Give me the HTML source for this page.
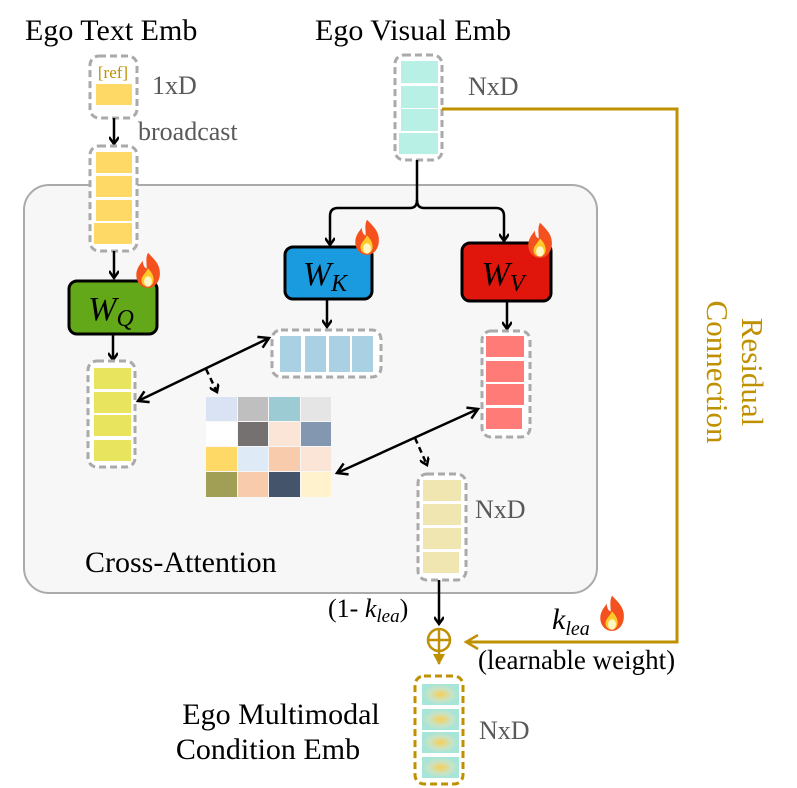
<!DOCTYPE html>
<html><head><meta charset="utf-8"><style>
html,body{margin:0;padding:0;background:#fff;}
svg{display:block;}
text{font-family:"Liberation Serif",serif;}
</style></head><body>
<svg width="797" height="788" viewBox="0 0 797 788" xmlns="http://www.w3.org/2000/svg">
<defs>
<marker id="ab" markerWidth="10" markerHeight="10" refX="8" refY="5" orient="auto" markerUnits="userSpaceOnUse"><path d="M1,0 L8,5 L1,10" fill="none" stroke="#000" stroke-width="2.5"/></marker>
<marker id="abs" markerWidth="14" markerHeight="14" refX="11" refY="7" orient="auto-start-reverse" markerUnits="userSpaceOnUse"><path d="M1,1 L11,7 L1,13" fill="none" stroke="#000" stroke-width="2.5"/></marker>
<marker id="ag" markerWidth="16" markerHeight="16" refX="13" refY="8" orient="auto" markerUnits="userSpaceOnUse"><path d="M1,1 L13,8 L1,15" fill="none" stroke="#bf9000" stroke-width="2.5"/></marker>
<marker id="agd" markerWidth="12" markerHeight="12" refX="6" refY="10" orient="0" markerUnits="userSpaceOnUse"><path d="M0,0 L12,0 L6,11 Z" fill="#bf9000"/></marker>
<radialGradient id="rg"><stop offset="0" stop-color="#f7cf5a"/><stop offset="0.6" stop-color="#c9e3c4"/><stop offset="1" stop-color="#a6e5d8"/></radialGradient>
<g id="fire"><g transform="scale(1.3)"><path d="M0,-14 C6,-8 10,-4 9,4 C8,10 4,13 0,13 C-5,13 -9,9 -9,3 C-9,-2 -6,-5 -4,-8 C-4,-4 -2,-2 -1,-2 C-1,-7 -2,-10 0,-14 Z" fill="#f4511e"/><path d="M0,-2 C4,2 5,6 4,9 C3,11 1,12 0,12 C-3,12 -5,10 -5,7 C-5,4 -2,2 0,-2 Z" fill="#ffca28"/><ellipse cx="0" cy="8" rx="3" ry="4" fill="#fff6c8"/></g></g>
</defs>

<rect x="24" y="185" width="573" height="408" rx="25" fill="#f7f7f7" stroke="#aaa" stroke-width="2"/>

<text x="25" y="40" font-size="30">Ego Text Emb</text>
<text x="315" y="40" font-size="30">Ego Visual Emb</text>

<rect x="90" y="56" width="47" height="62" rx="9" fill="#fff" stroke="#aaa" stroke-width="3" stroke-dasharray="7,4"/>
<text x="113" y="78" font-size="17" fill="#bf9000" text-anchor="middle">[ref]</text>
<rect x="96" y="84" width="36" height="21" fill="#ffd966"/>
<text x="152" y="94" font-size="26" fill="#595959">1xD</text>
<line x1="114" y1="118" x2="114" y2="144" stroke="#000" stroke-width="2.5" marker-end="url(#ab)"/>
<text x="138" y="140" font-size="26" fill="#595959">broadcast</text>

<rect x="90" y="146" width="47" height="105" rx="9" fill="#fff" stroke="#aaa" stroke-width="3" stroke-dasharray="7,4"/>
<rect x="96" y="152" width="36" height="21" fill="#ffd966"/>
<rect x="96" y="176" width="36" height="21" fill="#ffd966"/>
<rect x="96" y="200" width="36" height="21" fill="#ffd966"/>
<rect x="94" y="223" width="38" height="21" fill="#ffd966"/>
<line x1="114" y1="251" x2="114" y2="278" stroke="#000" stroke-width="2.5" marker-end="url(#ab)"/>

<rect x="69" y="281" width="88" height="53" rx="8" fill="#62a818" stroke="#000" stroke-width="3"/>
<text x="111" y="320" font-size="34" font-style="italic" text-anchor="middle">W<tspan font-size="24" dy="6">Q</tspan></text>
<use href="#fire" x="148" y="271"/>
<line x1="113" y1="334" x2="113" y2="360" stroke="#000" stroke-width="2.5" marker-end="url(#ab)"/>
<rect x="88" y="361" width="47" height="106" rx="9" fill="#fff" stroke="#aaa" stroke-width="3" stroke-dasharray="7,4"/>
<rect x="94" y="368" width="37" height="21" fill="#e8e45e"/>
<rect x="94" y="392" width="37" height="21" fill="#e8e45e"/>
<rect x="94" y="415" width="37" height="21" fill="#e8e45e"/>
<rect x="94" y="440" width="37" height="21" fill="#e8e45e"/>

<rect x="395" y="55" width="47" height="105" rx="9" fill="#fff" stroke="#aaa" stroke-width="3" stroke-dasharray="7,4"/>
<rect x="401" y="61" width="37" height="22" fill="#b9f0e6"/>
<rect x="401" y="86" width="37" height="22" fill="#b9f0e6"/>
<rect x="401" y="109" width="37" height="22" fill="#b9f0e6"/>
<rect x="399" y="133" width="39" height="21" fill="#b9f0e6"/>
<text x="468" y="95" font-size="26" fill="#595959">NxD</text>

<path d="M417,160 L417,200 Q417,208 410,208 L338,208 Q330,208 330,216 L330,245" fill="none" stroke="#000" stroke-width="2.5" marker-end="url(#ab)"/>
<path d="M417,200 Q417,208 424,208 L496,208 Q504,208 504,216 L504,241" fill="none" stroke="#000" stroke-width="2.5" marker-end="url(#ab)"/>

<rect x="285" y="247" width="87" height="52" rx="8" fill="#1a9be0" stroke="#000" stroke-width="3"/>
<text x="325" y="285" font-size="34" font-style="italic" text-anchor="middle">W<tspan font-size="24" dy="6">K</tspan></text>
<use href="#fire" x="367" y="238"/>
<rect x="462" y="243" width="89" height="58" rx="8" fill="#e0150b" stroke="#000" stroke-width="3"/>
<text x="503" y="285" font-size="34" font-style="italic" text-anchor="middle">W<tspan font-size="24" dy="6">V</tspan></text>
<use href="#fire" x="540" y="241"/>

<line x1="327" y1="299" x2="327" y2="327" stroke="#000" stroke-width="2.5" marker-end="url(#ab)"/>
<rect x="272" y="330" width="109" height="47" rx="9" fill="#fff" stroke="#aaa" stroke-width="3" stroke-dasharray="7,4"/>
<rect x="280" y="336" width="21" height="36" fill="#a9d0e3"/>
<rect x="305" y="336" width="21" height="36" fill="#a9d0e3"/>
<rect x="329" y="336" width="21" height="36" fill="#a9d0e3"/>
<rect x="352" y="336" width="21" height="36" fill="#a9d0e3"/>

<line x1="507" y1="301" x2="507" y2="329" stroke="#000" stroke-width="2.5" marker-end="url(#ab)"/>
<rect x="482" y="331" width="48" height="106" rx="9" fill="#fff" stroke="#aaa" stroke-width="3" stroke-dasharray="7,4"/>
<rect x="486" y="336" width="38" height="21" fill="#ff7b78"/>
<rect x="486" y="361" width="38" height="21" fill="#ff7b78"/>
<rect x="486" y="384" width="38" height="21" fill="#ff7b78"/>
<rect x="486" y="408" width="36" height="21" fill="#ff7b78"/>

<g>
<rect x="206" y="397" width="31" height="24" fill="#dae3f3"/><rect x="238" y="397" width="30" height="24" fill="#bfbfbf"/><rect x="269" y="397" width="31" height="24" fill="#9dcbd3"/><rect x="301" y="397" width="30" height="24" fill="#e5e5e5"/>
<rect x="206" y="422" width="31" height="24" fill="#ffffff"/><rect x="238" y="422" width="30" height="24" fill="#767171"/><rect x="269" y="422" width="31" height="24" fill="#fbe5d6"/><rect x="301" y="422" width="30" height="24" fill="#8497b0"/>
<rect x="206" y="447" width="31" height="24" fill="#ffd966"/><rect x="238" y="447" width="30" height="24" fill="#deebf7"/><rect x="269" y="447" width="31" height="24" fill="#f8cbad"/><rect x="301" y="447" width="30" height="24" fill="#fbe5d6"/>
<rect x="206" y="472" width="31" height="25" fill="#a19e56"/><rect x="238" y="472" width="30" height="25" fill="#f8cbad"/><rect x="269" y="472" width="31" height="25" fill="#44546a"/><rect x="301" y="472" width="30" height="25" fill="#fff2cc"/>
</g>

<line x1="138" y1="401" x2="269" y2="338" stroke="#000" stroke-width="2.5" marker-start="url(#abs)" marker-end="url(#abs)"/>
<line x1="206" y1="369" x2="217" y2="392" stroke="#000" stroke-width="2.5" stroke-dasharray="6,4" marker-end="url(#ab)"/>
<line x1="337" y1="473" x2="478" y2="409" stroke="#000" stroke-width="2.5" marker-start="url(#abs)" marker-end="url(#abs)"/>
<line x1="415" y1="438" x2="427" y2="465" stroke="#000" stroke-width="2.5" stroke-dasharray="6,4" marker-end="url(#ab)"/>

<rect x="418" y="474" width="48" height="106" rx="9" fill="#fff" stroke="#aaa" stroke-width="3" stroke-dasharray="7,4"/>
<rect x="423" y="480" width="38" height="21" fill="#f0e6b2"/>
<rect x="423" y="504" width="38" height="21" fill="#f0e6b2"/>
<rect x="423" y="528" width="38" height="21" fill="#f0e6b2"/>
<rect x="423" y="552" width="36" height="21" fill="#f0e6b2"/>
<text x="475" y="518" font-size="26" fill="#595959">NxD</text>
<text x="85" y="572" font-size="30">Cross-Attention</text>

<line x1="439" y1="580" x2="439" y2="624" stroke="#000" stroke-width="2.5" marker-end="url(#ab)"/>
<text x="328" y="617" font-size="26">(1- <tspan font-style="italic">k</tspan><tspan font-style="italic" font-size="19" dy="5">lea</tspan><tspan dy="-5">)</tspan></text>
<circle cx="439" cy="640" r="11" fill="none" stroke="#bf9000" stroke-width="2.5"/>
<line x1="428" y1="640" x2="450" y2="640" stroke="#bf9000" stroke-width="2.5"/>
<line x1="439" y1="629" x2="439" y2="651" stroke="#bf9000" stroke-width="2.5"/>
<line x1="439" y1="651" x2="439" y2="664" stroke="#bf9000" stroke-width="2.5" marker-end="url(#agd)"/>

<path d="M442,109 L677,109 L677,642 L466,642" fill="none" stroke="#bf9000" stroke-width="3" marker-end="url(#ag)"/>
<text transform="translate(742,372) rotate(90)" font-size="31" fill="#bf9000" text-anchor="middle">Residual</text>
<text transform="translate(707,372) rotate(90)" font-size="31" fill="#bf9000" text-anchor="middle">Connection</text>
<text x="552" y="629" font-size="30" font-style="italic">k<tspan font-size="20" dy="6">lea</tspan></text>
<use href="#fire" x="612" y="614"/>
<text x="478" y="669" font-size="27">(learnable weight)</text>

<rect x="415" y="676" width="48" height="108" rx="9" fill="#fff" stroke="#bf9000" stroke-width="3" stroke-dasharray="7,4"/>
<rect x="422" y="684" width="37" height="21" fill="url(#rg)"/>
<rect x="422" y="709" width="37" height="21" fill="url(#rg)"/>
<rect x="422" y="732" width="37" height="21" fill="url(#rg)"/>
<rect x="422" y="757" width="37" height="21" fill="url(#rg)"/>
<text x="479" y="739" font-size="26" fill="#595959">NxD</text>
<text x="281" y="724" font-size="30" text-anchor="middle">Ego Multimodal</text>
<text x="268" y="759" font-size="30" text-anchor="middle">Condition Emb</text>
</svg>
</body></html>
